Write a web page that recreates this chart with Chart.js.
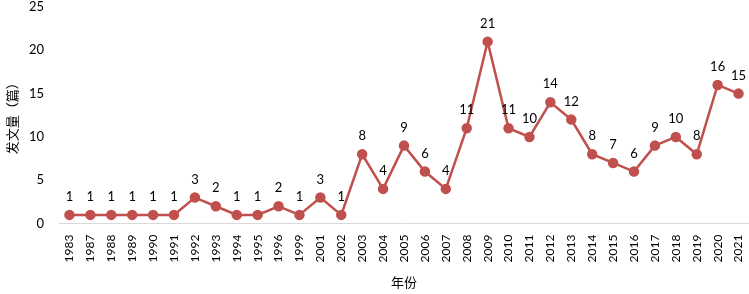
<!DOCTYPE html>
<html>
<head>
<meta charset="utf-8">
<script src="https://cdn.jsdelivr.net/npm/chart.js@4/dist/chart.umd.min.js"></script>
<style>
html,body{margin:0;padding:0;background:#fff;}
#wrap{width:749px;height:294px;position:relative;}
</style>
</head>
<body>
<div id="wrap"><canvas id="c" width="749" height="294"></canvas></div>
<script>
const years = ["1983","1987","1988","1989","1990","1991","1992","1993","1994","1995","1996","1999","2001","2002","2003","2004","2005","2006","2007","2008","2009","2010","2011","2012","2013","2014","2015","2016","2017","2018","2019","2020","2021"];
const counts = [1,1,1,1,1,1,3,2,1,1,2,1,3,1,8,4,9,6,4,11,21,11,10,14,12,8,7,6,9,10,8,16,15];
const yTicks = [0,5,10,15,20,25];
const xTitle = "年份";
const yTitle = "发文量（篇）";

const FONT = "Lato, 'Liberation Sans', sans-serif";
const CJK = "'Noto Sans CJK SC', sans-serif";

const labelPlugin = {
  id: 'pointLabels',
  afterDatasetsDraw(chart) {
    const ctx = chart.ctx;
    const meta = chart.getDatasetMeta(0);
    ctx.save();
    ctx.fillStyle = '#000';
    ctx.font = '13px ' + FONT;
    ctx.textAlign = 'center';
    ctx.textBaseline = 'middle';
    meta.data.forEach((pt, i) => {
      ctx.fillText(String(counts[i]), pt.x, pt.y - 18);
    });
    ctx.restore();
  }
};

new Chart(document.getElementById('c'), {
  type: 'line',
  data: {
    labels: years,
    datasets: [{
      data: counts,
      borderColor: '#C0504D',
      backgroundColor: '#C0504D',
      borderWidth: 2.5,
      pointRadius: 4,
      pointBackgroundColor: '#C0504D',
      pointBorderColor: '#C0504D',
      tension: 0
    }]
  },
  options: {
    responsive: false,
    animation: false,
    layout: { autoPadding: false, padding: { top: 0, right: 0, bottom: 4, left: 0 } },
    plugins: { legend: { display: false }, tooltip: { enabled: false } },
    scales: {
      x: {
        offset: true,
        afterFit(scale) { scale.paddingRight = 0; scale.paddingLeft = 0; },
        grid: { display: false, drawTicks: false },
        border: { display: true, color: '#d9d9d9', width: 1 },
        ticks: { minRotation: 90, maxRotation: 90, color: '#000', font: { size: 12, family: FONT }, padding: 11, autoSkip: false },
        title: { display: true, text: xTitle, color: '#000', font: { size: 13, family: CJK }, padding: { top: 1, bottom: 0 } }
      },
      y: {
        min: 0, max: 25,
        afterBuildTicks(scale) { scale.ticks = yTicks.map(v => ({ value: v })); },
        afterFit(scale) { scale.width = 59; scale.paddingTop = 7; scale.paddingBottom = 0; },
        grid: { display: false, drawTicks: false },
        border: { display: false },
        ticks: { color: '#000', font: { size: 13, family: FONT }, padding: 15 },
        title: { display: true, text: yTitle, color: '#000', font: { size: 13, family: CJK }, padding: { top: 4, bottom: 2 } }
      }
    }
  },
  plugins: [labelPlugin]
});
</script>
</body>
</html>
